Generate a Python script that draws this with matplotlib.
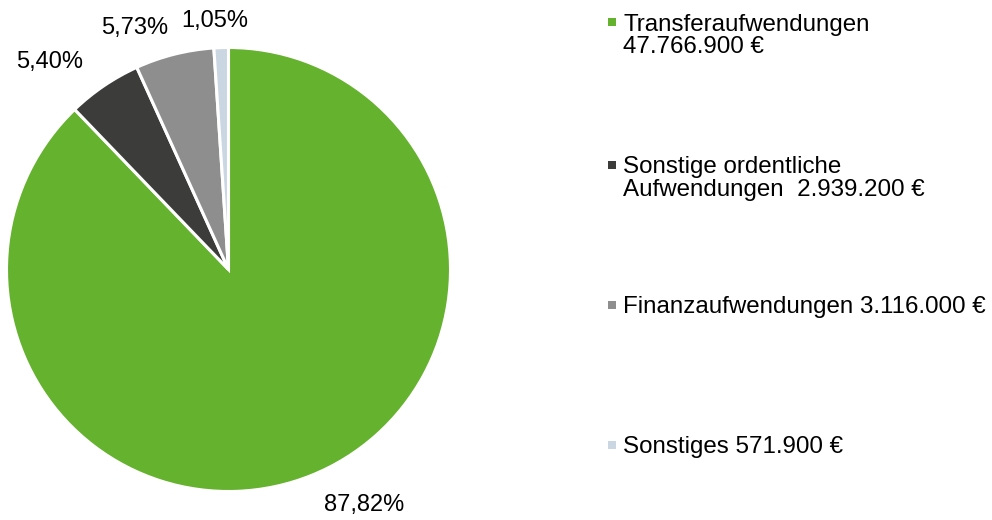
"""Pie chart: Aufwendungen nach Art."""

import numpy as np
import matplotlib
matplotlib.use("Agg")
from matplotlib import pyplot as plt
from matplotlib.patches import Rectangle

plt.rcParams["font.family"] = ["Liberation Sans", "DejaVu Sans"]

categories = ["Transferaufwendungen", "Sonstige ordentliche Aufwendungen",
              "Finanzaufwendungen", "Sonstiges"]
values = [47766900, 2939200, 3116000, 571900]
legend_labels = ["Transferaufwendungen\n47.766.900 €",
                 "Sonstige ordentliche\nAufwendungen  2.939.200 €",
                 "Finanzaufwendungen 3.116.000 €",
                 "Sonstiges 571.900 €"]
colors = ["#65b22e", "#3c3c3b", "#8e8e8e", "#cbd6e3"]

W, H = 992, 520
fig = plt.figure(figsize=(W / 100, H / 100), dpi=100)

# pie centre (229, 269.5) px, radius 222 px
cx, cy, R = 228.5, 269.5, 222
ax = fig.add_axes([(cx - R) / W, (H - cy - R) / H, 2 * R / W, 2 * R / H])
wedges, _ = ax.pie(values, colors=colors, startangle=90, counterclock=False,
                   wedgeprops=dict(edgecolor="white", linewidth=2.2))
ax.set_xlim(-1, 1)
ax.set_ylim(-1, 1)
ax.set_aspect("equal")
ax.axis("off")

total = sum(values)
# label placement: radius factor and angular shift from wedge mid angle
label_r = [1.225, 1.235, 1.165, 1.12]
label_shift = [8.0, 6.6, 7.1, 1.3]
for w, v, r, s in zip(wedges, values, label_r, label_shift):
    mid = np.deg2rad((w.theta1 + w.theta2) / 2 + s)
    txt = f"{100 * v / total:.2f}%".replace(".", ",")
    ax.text(r * np.cos(mid), r * np.sin(mid), txt, ha="center", va="center",
            fontsize=17, clip_on=False)

# legend, drawn by hand to match the wide spacing
leg_y = [22, 165, 305, 445]
for lab, col, y in zip(legend_labels, colors, leg_y):
    fig.patches.append(Rectangle((608 / W, 1 - (y + 4) / H), 8 / W, 8 / H,
                                 transform=fig.transFigure, facecolor=col,
                                 edgecolor="none"))
    fig.text(623 / W, 1 - (y - 8.5) / H, lab, ha="left", va="top",
             fontsize=17.4, linespacing=1.02)

fig.savefig("out.png", dpi=100)
